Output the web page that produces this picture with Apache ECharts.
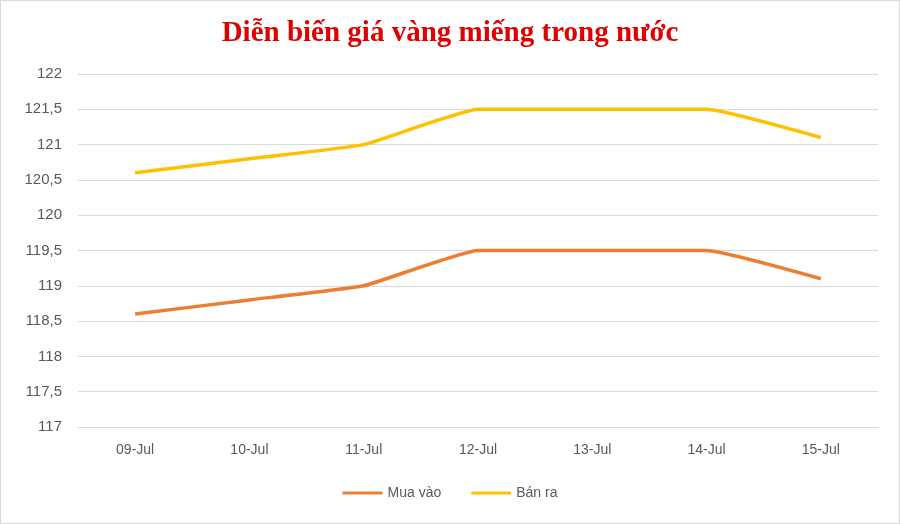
<!DOCTYPE html>
<html><head><meta charset="utf-8">
<script src="https://cdn.jsdelivr.net/npm/echarts@6/dist/echarts.min.js"></script>
<style>html,body{margin:0;padding:0;background:#fff}#c{width:898px;height:522px;border:1px solid #d9d9d9}</style>
</head><body><div id="c"></div>
<script>
const categories = ['09-Jul','10-Jul','11-Jul','12-Jul','13-Jul','14-Jul','15-Jul'];
const muaVao = [118.6,118.8,119.0,119.5,119.5,119.5,119.1];
const banRa = [120.6,120.8,121.0,121.5,121.5,121.5,121.1];
const chart = echarts.init(document.getElementById('c'));
chart.setOption({
  title:{text:'Diễn biến giá vàng miếng trong nước',left:'center',top:13,
    textStyle:{fontFamily:'Liberation Serif',fontWeight:'bold',fontSize:29,color:'#e00000'}},
  grid:{left:77,right:21,top:73,bottom:96},
  legend:{bottom:18,itemWidth:40,itemHeight:3,itemGap:30,icon:'rect',
    textStyle:{fontFamily:'Liberation Sans',fontSize:14,color:'#595959'},data:['Mua vào','Bán ra']},
  xAxis:{type:'category',data:categories,boundaryGap:true,
    axisLine:{lineStyle:{color:'#d9d9d9'}},axisTick:{show:false},
    axisLabel:{fontFamily:'Liberation Sans',fontSize:14,color:'#595959',margin:16}},
  yAxis:{type:'value',min:117,max:122,interval:0.5,
    axisLine:{show:false},axisTick:{show:false},
    splitLine:{lineStyle:{color:'#d9d9d9'}},
    axisLabel:{fontFamily:'Liberation Sans',fontSize:15,color:'#595959',margin:16,
      formatter:v=>String(v).replace('.',',')}},
  series:[
    {name:'Mua vào',type:'line',data:muaVao,smooth:0.12,symbol:'none',lineStyle:{width:3.5,color:'#ed7d31'},itemStyle:{color:'#ed7d31'}},
    {name:'Bán ra',type:'line',data:banRa,smooth:0.12,symbol:'none',lineStyle:{width:3.5,color:'#ffc000'},itemStyle:{color:'#ffc000'}}
  ]
});
</script></body></html>
